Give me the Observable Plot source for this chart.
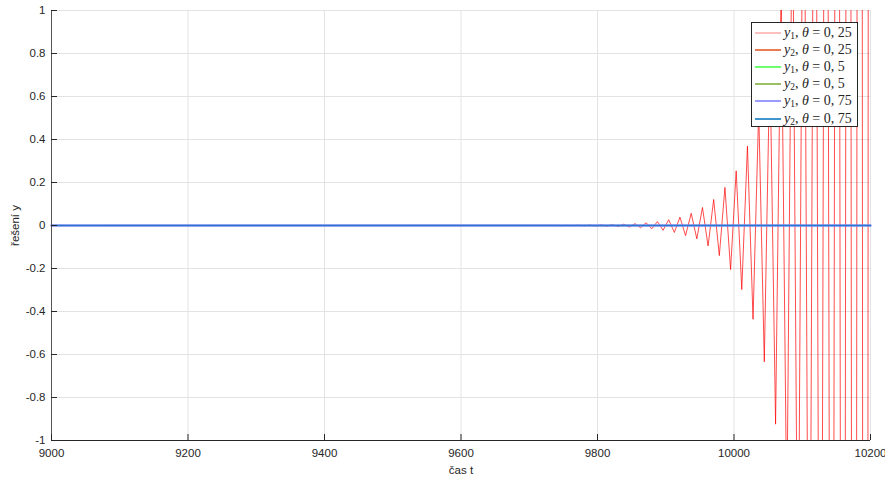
<!DOCTYPE html>
<html>
<head>
<meta charset="utf-8">
<script src="https://cdn.jsdelivr.net/npm/d3@7"></script>
<script src="https://cdn.jsdelivr.net/npm/@observablehq/plot@0.6"></script>
<style>
  html, body { margin: 0; padding: 0; background: #fff; }
  #wrap { position: relative; width: 885px; height: 483px; }
  #legend {
    position: absolute; left: 751px; top: 22px; width: 107px; height: 105px;
    background: #fff; border: 1px solid #262626; box-sizing: border-box;
    font-family: "Liberation Serif", "Times New Roman", serif; font-size: 14px; color: #262626;
    padding-top: 1px;
  }
  .row { display: flex; align-items: center; height: 17.2px; white-space: nowrap; }
  .row svg { margin-left: 3px; margin-right: 3px; flex: none; }
  .row sub { font-size: 9.5px; vertical-align: -2px; line-height: 0; }
</style>
</head>
<body>
<div id="wrap"></div>
<script>
// ---- data ----
const xTicks = [9000, 9200, 9400, 9600, 9800, 10000, 10200];
const yTicks = [-1, -0.8, -0.6, -0.4, -0.2, 0, 0.2, 0.4, 0.6, 0.8, 1];

// y1, theta = 0,25 (red, growing oscillation)
const tRed = [9000,
  9739.5, 9747.7, 9756.0, 9764.2, 9772.5, 9780.7, 9788.9, 9797.2, 9805.4, 9813.7,
  9821.9, 9830.2, 9838.4, 9846.6, 9854.9, 9863.1, 9871.4, 9879.6, 9887.8, 9896.1,
  9904.3, 9912.6, 9920.8, 9929.0, 9937.3, 9945.5, 9953.8, 9962.0, 9970.2, 9978.5,
  9986.7, 9995.0, 10003.2, 10011.4, 10019.7, 10027.9, 10036.2, 10044.4, 10052.6, 10060.9,
  10069.1, 10077.4, 10085.6, 10093.8, 10102.1, 10110.3, 10118.6, 10126.8, 10135.0, 10143.3,
  10151.5, 10159.8, 10168.0, 10176.2, 10184.5, 10192.7, 10201.0];
const yRed = [0,
  0.0006, -0.0008, 0.0009, -0.0011, 0.0014, -0.0016, 0.0020, -0.0024, 0.0028, -0.0034,
  0.0041, -0.0050, 0.0060, -0.0072, 0.0087, -0.0105, 0.0127, -0.0153, 0.0185, -0.0223,
  0.0269, -0.0324, 0.0391, -0.0471, 0.0568, -0.062, 0.084, -0.095, 0.121, -0.140,
  0.177, -0.205, 0.254, -0.298, 0.369, -0.436, 0.537, -0.634, 0.78, -0.924,
  1.137, -1.371, 1.653, -1.994, 2.404, -2.90, 3.50, -4.22, 5.08, -6.13,
  7.39, -8.92, 10.76, -12.98, 15.65, -18.87, 22.76];

// other series stay at zero over the whole range
const tFlat = [9000, 10200];
const yOrange = [0, 0];   // y2, theta = 0,25
const yGreen1 = [0, 0];   // y1, theta = 0,5
const yGreen2 = [0, 0];   // y2, theta = 0,5
const yBlue1 = [0, 0];    // y1, theta = 0,75
const yBlue2 = [0, 0];    // y2, theta = 0,75

const series = [
  {name: "y1_025", sub: "1", theta: "0, 25", color: "#ff0000", legendColor: "#ff8080", legendWidth: 1},
  {name: "y2_025", sub: "2", theta: "0, 25", color: "#e0521a", legendColor: "#e0521a", legendWidth: 1.5},
  {name: "y1_05", sub: "1", theta: "0, 5", color: "#40ff40", legendColor: "#40ff40", legendWidth: 1.5},
  {name: "y2_05", sub: "2", theta: "0, 5", color: "#77ac30", legendColor: "#77ac30", legendWidth: 1.5},
  {name: "y1_075", sub: "1", theta: "0, 75", color: "#8c8cff", legendColor: "#9a9aff", legendWidth: 2},
  {name: "y2_075", sub: "2", theta: "0, 75", color: "#0072bd", legendColor: "#0072bd", legendWidth: 1.5}
];

const red = tRed.map((t, i) => ({t, y: yRed[i]}));
const flat = (vals) => tFlat.map((t, i) => ({t, y: vals[i]}));

const chart = Plot.plot({
  width: 885, height: 483,
  marginLeft: 51, marginRight: 15, marginTop: 10, marginBottom: 43,
  style: {fontFamily: "'Liberation Sans', Arial, sans-serif", fontSize: "10.5px", color: "#262626", background: "#fff"},
  x: {domain: [9000, 10200]},
  y: {domain: [-1, 1]},
  marks: [
    Plot.gridX(xTicks, {stroke: "#e3e3e3", strokeOpacity: 1}),
    Plot.gridY(yTicks, {stroke: "#e3e3e3", strokeOpacity: 1}),
    Plot.line(flat(yOrange), {x: "t", y: "y", stroke: series[1].color, strokeWidth: 1}),
    Plot.line(flat(yGreen1), {x: "t", y: "y", stroke: series[2].color, strokeWidth: 1}),
    Plot.line(flat(yGreen2), {x: "t", y: "y", stroke: series[3].color, strokeWidth: 1}),
    Plot.line(red, {x: "t", y: "y", stroke: series[0].color, strokeWidth: 1, strokeOpacity: 0.7, clip: true}),
    Plot.line(flat(yBlue1), {x: "t", y: "y", stroke: series[4].color, strokeWidth: 2.4, strokeOpacity: 0.9}),
    Plot.line(flat(yBlue2), {x: "t", y: "y", stroke: series[5].color, strokeWidth: 1.4, strokeOpacity: 0.7}),
    Plot.ruleX([9000], {stroke: "#555"}),
    Plot.ruleY([-1], {stroke: "#262626"}),
    Plot.tickX(xTicks, {x: d => d, stroke: "#262626", insetTop: 424}),
    Plot.tickY(yTicks, {y: d => d, stroke: "#262626", insetRight: 813}),
    Plot.axisX(xTicks, {tickSize: 0, tickPadding: 8, tickFormat: d => String(d),
      label: "čas t", labelArrow: "none", labelAnchor: "center", labelOffset: 33, fontSize: 11.5}),
    Plot.axisY(yTicks, {tickSize: 0, tickPadding: 6, tickFormat: d => String(+d.toFixed(1)),
      label: "řešení y", labelArrow: "none", labelAnchor: "center", labelOffset: 41, fontSize: 11.5})
  ]
});

const wrap = document.getElementById("wrap");
wrap.appendChild(chart);

const legend = document.createElement("div");
legend.id = "legend";
for (const s of series) {
  const row = document.createElement("div");
  row.className = "row";
  row.innerHTML = `<svg width="26" height="6"><line x1="0" y1="3" x2="26" y2="3" stroke="${s.legendColor}" stroke-width="${s.legendWidth}"/></svg>` +
    `<span><i>y</i><sub>${s.sub}</sub>, <i>θ</i> = ${s.theta}</span>`;
  legend.appendChild(row);
}
wrap.appendChild(legend);
</script>
</body>
</html>
